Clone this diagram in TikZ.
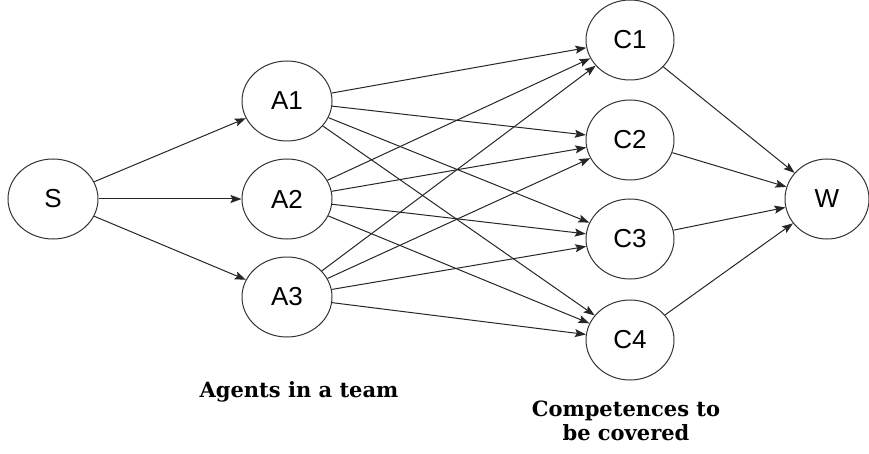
\documentclass[tikz,border=0pt]{standalone}
\usepackage{fontspec}
\setmainfont{Liberation Sans}
\newfontfamily\labelfont{DejaVu Serif}
\usetikzlibrary{shapes.geometric,arrows.meta}

\tikzset{
    vertex/.style={ellipse,draw=black!80,line width=1pt,minimum width=90pt,minimum height=80pt,inner sep=0pt,
        font=\fontsize{26}{30}\selectfont},
    arc/.style={draw=black!85,line width=1pt,-{Stealth[length=11pt,width=8pt,inset=2pt]}},
    caption/.style={align=center,inner sep=0pt,font=\labelfont\bfseries\fontsize{21}{24}\selectfont}
}

\begin{document}
\begin{tikzpicture}[x=1pt,y=1pt]
    \useasboundingbox (0,0) rectangle (869,453);
    %source and agents
    \node[vertex] at (53,254) (s) {S};
    \node[vertex] at (287,352) (a1) {A1};
    \node[vertex] at (287,254) (a2) {A2};
    \node[vertex] at (287,156) (a3) {A3};
    %competences and sink
    \node[vertex,minimum width=88pt] at (630,413) (c1) {C1};
    \node[vertex,minimum width=88pt] at (630,313) (c2) {C2};
    \node[vertex,minimum width=88pt] at (630,214) (c3) {C3};
    \node[vertex,minimum width=88pt] at (630,113) (c4) {C4};
    \node[vertex,minimum width=84pt] at (827,254) (w) {W};
    %captions
    \node[caption,anchor=base] at (299,56) (agents) {Agents in a team};
    \node[caption,anchor=south] at (626,12) (comp) {Competences to\\be covered};

    \draw[arc] (s) -- (a1);
    \draw[arc] (s) -- (a2);
    \draw[arc] (s) -- (a3);

    \draw[arc] (a1) -- (c1);
    \draw[arc] (a1) -- (c2);
    \draw[arc] (a1) -- (c3);
    \draw[arc] (a1) -- (c4);
    \draw[arc] (a2) -- (c1);
    \draw[arc] (a2) -- (c2);
    \draw[arc] (a2) -- (c3);
    \draw[arc] (a2) -- (c4);
    \draw[arc] (a3) -- (c1);
    \draw[arc] (a3) -- (c2);
    \draw[arc] (a3) -- (c3);
    \draw[arc] (a3) -- (c4);

    \draw[arc] (c1) -- (w);
    \draw[arc] (c2) -- (w);
    \draw[arc] (c3) -- (w);
    \draw[arc] (c4) -- (w);
\end{tikzpicture}
\end{document}
